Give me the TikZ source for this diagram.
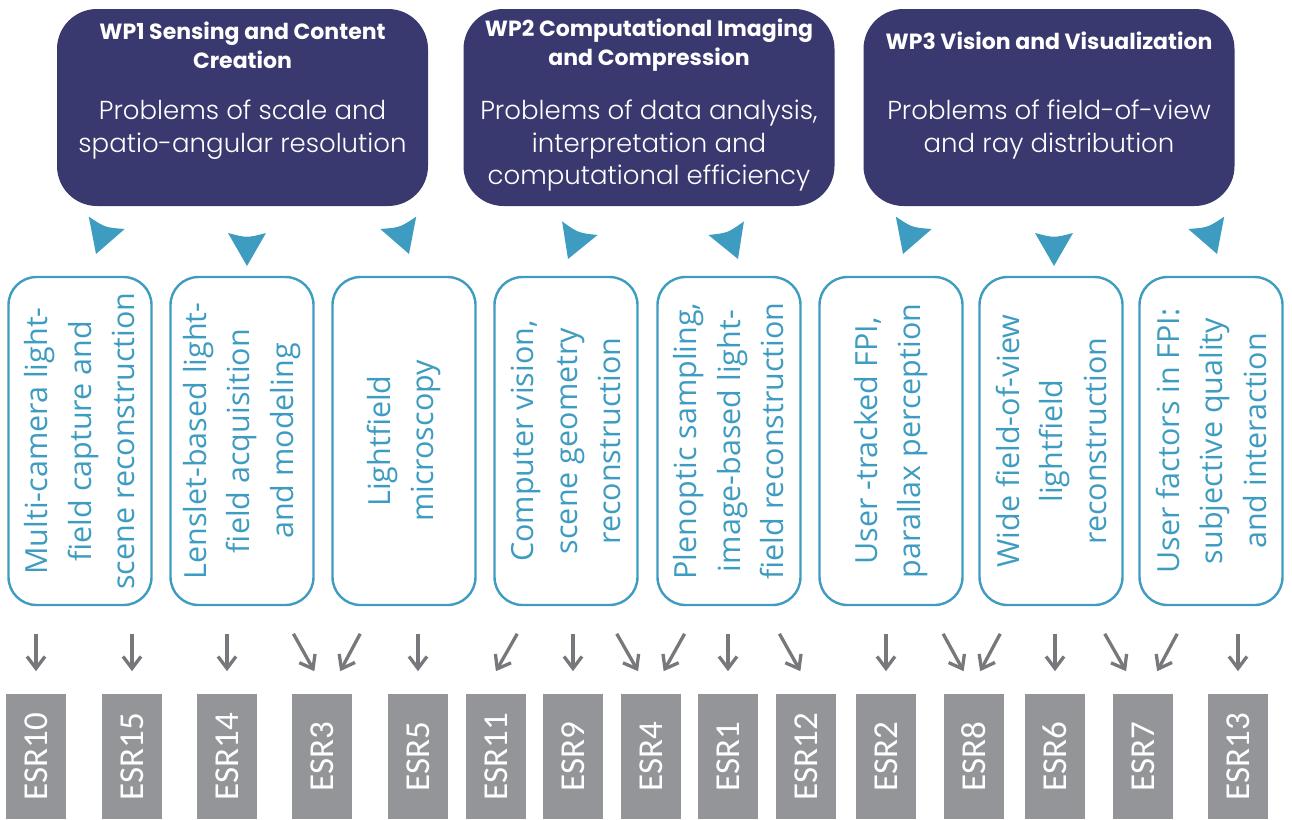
\documentclass[tikz,border=0pt]{standalone}
\usepackage{fontspec}
\setmainfont{Open Sans}
\newfontfamily\esrfont{Carlito}
\newfontfamily\wpfont{Poppins}[UprightFont=* Light, BoldFont=* Bold]
\usetikzlibrary{arrows.meta,calc}
\definecolor{wpnavy}{HTML}{39386F}
\definecolor{topicteal}{HTML}{3F9CC1}
\definecolor{esrgray}{HTML}{939598}
\definecolor{linkgray}{HTML}{77787B}
\newcommand{\esrlink}[2]{\draw[esrarrow] ($(#1)!0.315!(#2)$) -- ($(#1)!0.742!(#2)$);}

\begin{document}
\begin{tikzpicture}[x=1pt,y=-1pt,
  wpbox/.style={fill=wpnavy, rounded corners=40pt, minimum width=371pt, minimum height=197pt, inner sep=0pt},
  wptitle/.style={text=white, align=center, inner sep=0pt, font=\wpfont\bfseries\fontsize{22}{29}\selectfont},
  wpbody/.style={text=white, align=center, anchor=north, inner sep=0pt, font=\wpfont\fontsize{26}{32.5}\selectfont},
  topic/.style={draw=topicteal, line width=2.4pt, rounded corners=28pt, rotate=90, minimum width=328pt, minimum height=143pt, inner sep=0pt, align=center, text=topicteal, font=\fontsize{30.5}{43.5}\selectfont},
  esr/.style={fill=esrgray, rotate=90, minimum width=125pt, minimum height=60pt, inner sep=0pt, text=white, font=\esrfont\fontsize{35}{40}\selectfont},
  esrarrow/.style={draw=linkgray, line width=3.3pt, -{Straight Barb[length=12pt,width=18pt]}},
  wptri/.pic={\fill[topicteal] (-19,-33) .. controls (0,-28) .. (19,-33) -- (0,0) -- cycle;}]
  \useasboundingbox (0,0) rectangle (1292,819);

  % work packages
  \node[wpbox] (wp1) at (242.5,107.5) {};
  \node[wpbox] (wp2) at (649,107.5) {};
  \node[wpbox] (wp3) at (1049,107.5) {};
  \node[wptitle] (wp1title) at ([yshift=-36pt]wp1.north) {WP1 Sensing and Content\\Creation};
  \node[wptitle] (wp2title) at ([yshift=-36pt]wp2.north) {WP2 Computational Imaging\\and Compression};
  \node[wptitle] (wp3title) at ([yshift=-32pt]wp3.north) {WP3 Vision and Visualization};
  \node[wpbody] (wp1body) at ([yshift=-91pt]wp1.north) {Problems of scale and\\spatio-angular resolution};
  \node[wpbody] (wp2body) at ([yshift=-91pt]wp2.north) {Problems of data analysis,\\interpretation and\\computational efficiency};
  \node[wpbody] (wp3body) at ([yshift=-91pt]wp3.north) {Problems of field-of-view\\and ray distribution};

  \pic[rotate=-19] at (96,254) {wptri};
  \pic at (247,266) {wptri};
  \pic[rotate=19] at (409,254) {wptri};
  \pic[rotate=-21] at (568,259) {wptri};
  \pic[rotate=21] at (738,259) {wptri};
  \pic[rotate=-19] at (903,254) {wptri};
  \pic at (1054,266) {wptri};
  \pic[rotate=19] at (1217,254) {wptri};

  % research topics
  \node[topic] (t1) at (80,441) {Multi-camera light-\\field capture and\\scene reconstruction};
  \node[topic] (t2) at (242,441) {Lenslet-based light-\\field acquisition\\and modeling};
  \node[topic] (t3) at (404,441) {Lightfield\\microscopy};
  \node[topic] (t4) at (566,441) {Computer vision,\\scene geometry\\reconstruction};
  \node[topic] (t5) at (729,441) {Plenoptic sampling,\\image-based light-\\field reconstruction};
  \node[topic] (t6) at (891,441) {User -tracked FPI,\\parallax perception};
  \node[topic] (t7) at (1051,441) {Wide field-of-view\\lightfield\\reconstruction};
  \node[topic] (t8) at (1211,441) {User factors in FPI:\\subjective quality\\and interaction};

  % ESRs
  \node[esr] (e10) at (36,756.5) {ESR10};
  \node[esr] (e15) at (132,756.5) {ESR15};
  \node[esr] (e14) at (227,756.5) {ESR14};
  \node[esr] (e3) at (322,756.5) {ESR3};
  \node[esr] (e5) at (418,756.5) {ESR5};
  \node[esr] (e11) at (496,756.5) {ESR11};
  \node[esr] (e9) at (573,756.5) {ESR9};
  \node[esr] (e4) at (651,756.5) {ESR4};
  \node[esr] (e1) at (728,756.5) {ESR1};
  \node[esr] (e12) at (806,756.5) {ESR12};
  \node[esr] (e2) at (886,756.5) {ESR2};
  \node[esr] (e8) at (974,756.5) {ESR8};
  \node[esr] (e6) at (1055,756.5) {ESR6};
  \node[esr] (e7) at (1143,756.5) {ESR7};
  \node[esr] (e13) at (1238,756.5) {ESR13};

  % topic -> ESR
  \esrlink{t1.west -| e10.east}{e10.east}
  \esrlink{t1.west -| e15.east}{e15.east}
  \esrlink{t2.west -| e14.east}{e14.east}
  \esrlink{[xshift=36pt]t2.west}{[xshift=5pt]e3.east}
  \esrlink{[xshift=-29pt]t3.west}{[xshift=6pt]e3.east}
  \esrlink{t3.west -| e5.east}{e5.east}
  \esrlink{[xshift=-33pt]t4.west}{[xshift=-13pt]e11.east}
  \esrlink{t4.west -| e9.east}{e9.east}
  \esrlink{[xshift=35pt]t4.west}{e4.east}
  \esrlink{[xshift=-29pt]t5.west}{e4.east}
  \esrlink{t5.west -| e1.east}{e1.east}
  \esrlink{[xshift=35pt]t5.west}{[xshift=7pt]e12.east}
  \esrlink{t6.west -| e2.east}{e2.east}
  \esrlink{[xshift=37pt]t6.west}{[xshift=2pt]e8.east}
  \esrlink{[xshift=-36pt]t7.west}{[xshift=-6pt]e8.east}
  \esrlink{t7.west -| e6.east}{e6.east}
  \esrlink{[xshift=38pt]t7.west}{[xshift=-4pt]e7.east}
  \esrlink{[xshift=-19pt]t8.west}{[xshift=2pt]e7.east}
  \esrlink{t8.west -| e13.east}{e13.east}
\end{tikzpicture}
\end{document}
